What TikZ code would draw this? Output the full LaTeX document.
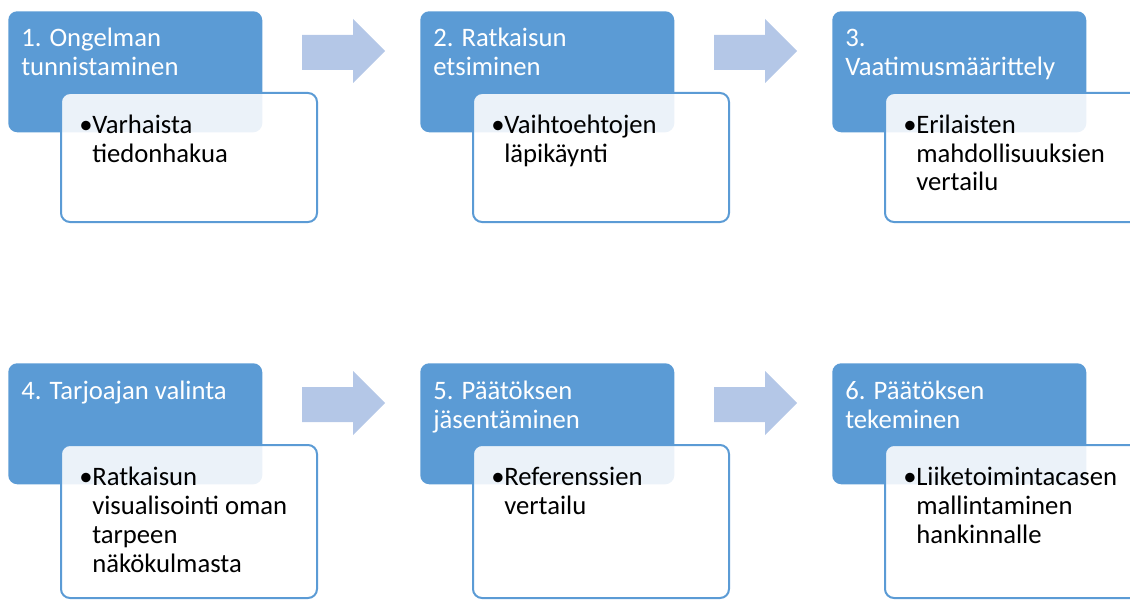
\documentclass[tikz,border=0pt]{standalone}
\usepackage{fontspec}
\setmainfont{Carlito}
\usepackage{xcolor}

\definecolor{stepblue}{HTML}{5B9BD5}
\definecolor{arrowblue}{HTML}{B4C7E7}

\tikzset{
  hdrbox/.style={fill=stepblue, rounded corners=6.75pt, inner sep=0pt,
    minimum width=190.5pt, minimum height=90.75pt, anchor=north west},
  subbox/.style={draw=stepblue, line width=1.5pt, fill=white, fill opacity=0.88,
    rounded corners=6.75pt, inner sep=0pt,
    minimum width=192pt, minimum height=96.75pt, anchor=north west},
  hdrtext/.style={text=white, inner sep=0pt, anchor=base west,
    font=\fontsize{20pt}{21.75pt}\selectfont},
  subtext/.style={text=black, inner sep=0pt, anchor=base west,
    font=\fontsize{20pt}{21.75pt}\selectfont},
  flowarrow/.style={fill=arrowblue}
}

\newcommand{\hdrlines}[1]{\begin{tabular}[t]{@{}l@{}}#1\end{tabular}}
\newcommand{\bulitem}[1]{\begin{tabular}[t]{@{}l@{}l@{}}\makebox[9.75pt][l]{\textbullet}&#1\end{tabular}}

\begin{document}
\begin{tikzpicture}[x=0.75pt,y=-0.75pt]
\useasboundingbox (0,0) rectangle (1130,599);

% Row one: the first three steps
  \node[hdrbox] (h1) at (8,11) {};
  \node[hdrtext] (ht1) at (21,47) {\hdrlines{1. Ongelman\\tunnistaminen}};
  \node[subbox] (s1) at (60,92) {};
  \node[subtext] (st1) at (79,133) {\bulitem{Varhaista\\&tiedonhakua}};

  \node[hdrbox] (h2) at (420,11) {};
  \node[hdrtext] (ht2) at (433,47) {\hdrlines{2. Ratkaisun\\etsiminen}};
  \node[subbox] (s2) at (472,92) {};
  \node[subtext] (st2) at (491,133) {\bulitem{Vaihtoehtojen\\&läpikäynti}};

  \node[hdrbox] (h3) at (832,11) {};
  \node[hdrtext] (ht3) at (845,47) {\hdrlines{3.\\Vaatimusmäärittely}};
  \node[subbox] (s3) at (884,92) {};
  \node[subtext] (st3) at (903,133) {\bulitem{Erilaisten\\&mahdollisuuksien\\&vertailu}};

% Arrows of row one
  \fill[flowarrow] (302,35) -- (353,35) -- (353,19) -- (385,51) -- (353,83) -- (353,70) -- (302,70) -- cycle;
  \fill[flowarrow] (714,35) -- (765,35) -- (765,19) -- (797,51) -- (765,83) -- (765,70) -- (714,70) -- cycle;

% Row two: the last three steps
  \node[hdrbox] (h4) at (8,363) {};
  \node[hdrtext] (ht4) at (21,399) {\hdrlines{4. Tarjoajan valinta}};
  \node[subbox, minimum height=114.75pt] (s4) at (60,444) {};
  \node[subtext] (st4) at (79,485) {\bulitem{Ratkaisun\\&visualisointi oman\\&tarpeen\\&näkökulmasta}};

  \node[hdrbox] (h5) at (420,363) {};
  \node[hdrtext] (ht5) at (433,399) {\hdrlines{5. Päätöksen\\jäsentäminen}};
  \node[subbox, minimum height=114.75pt] (s5) at (472,444) {};
  \node[subtext] (st5) at (491,485) {\bulitem{Referenssien\\&vertailu}};

  \node[hdrbox] (h6) at (832,363) {};
  \node[hdrtext] (ht6) at (845,399) {\hdrlines{6. Päätöksen\\tekeminen}};
  \node[subbox, minimum height=114.75pt] (s6) at (884,444) {};
  \node[subtext] (st6) at (903,485) {\bulitem{Liiketoimintacasen\\&mallintaminen\\&hankinnalle}};

% Arrows of row two
  \fill[flowarrow] (302,387) -- (353,387) -- (353,371) -- (385,403) -- (353,435) -- (353,422) -- (302,422) -- cycle;
  \fill[flowarrow] (714,387) -- (765,387) -- (765,371) -- (797,403) -- (765,435) -- (765,422) -- (714,422) -- cycle;

\end{tikzpicture}
\end{document}
